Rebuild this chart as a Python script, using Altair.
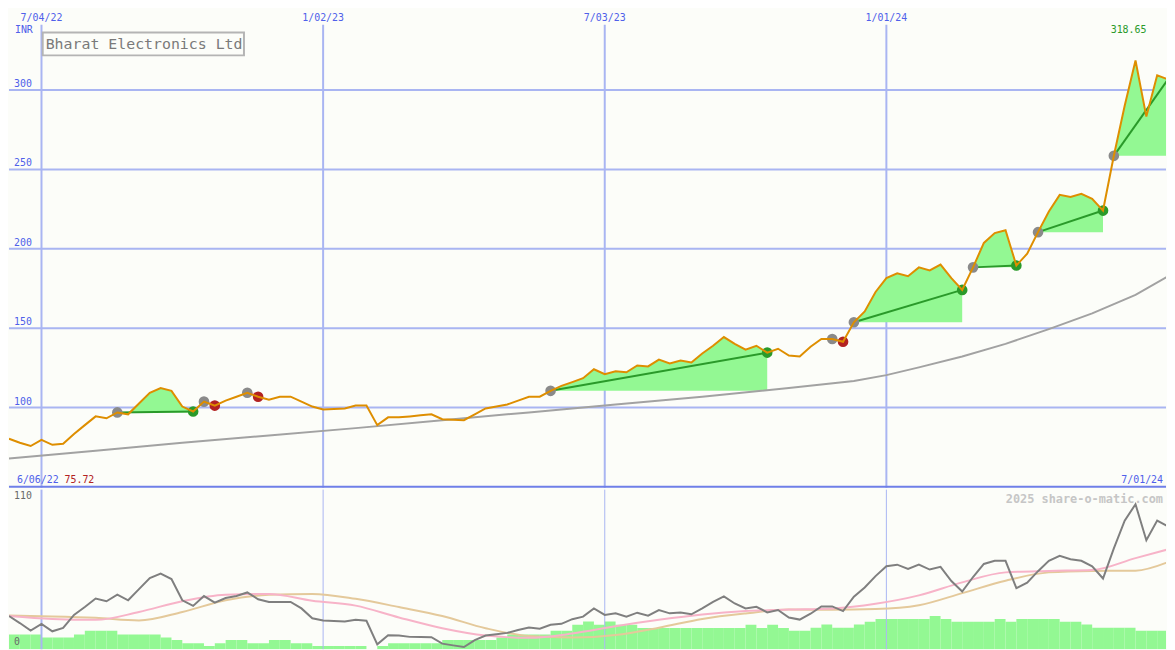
import altair as alt
import pandas as pd

# ---------------- data ----------------
START = "2022-06-13"
N_WEEKS = 108
week_dates = pd.date_range(START, periods=N_WEEKS + 1, freq="7D").strftime("%Y-%m-%d").tolist()
dates = week_dates[:N_WEEKS]

price = [80.3, 77.8, 75.72, 79.6, 76.5, 77.2, 83.3, 88.9, 94.4, 93.2,
         96.9, 95.7, 102.5, 109.3, 112.3, 110.5, 100.6, 97.5, 103.7, 101.2,
         104.3, 106.8, 109.3, 106.8, 104.9, 106.8, 106.8, 103.7, 100.6, 98.8,
         99.1, 99.4, 101.2, 101.2, 88.9, 93.8, 93.8, 94.4, 95.1, 95.7,
         92.6, 92.3, 92.0, 95.7, 99.4, 100.6, 101.9, 104.3, 106.8, 106.8,
         110.5, 113.6, 116.0, 118.5, 124.1, 121.0, 122.8, 122.2, 126.5, 125.9,
         130.2, 127.8, 129.6, 128.4, 134.0, 138.9, 144.4, 140.1, 136.4, 138.9,
         134.6, 137.0, 132.7, 132.1, 138.3, 143.2, 143.2, 141.4, 153.7, 160.5,
         172.8, 181.5, 184.6, 182.7, 188.3, 186.4, 190.1, 181.5, 174.1, 188.3,
         203.7, 209.9, 211.7, 189.5, 196.9, 210.5, 223.5, 234.0, 232.7, 234.6,
         231.5, 224.1, 258.6, 290.1, 318.65, 283.3, 309.3, 306.8]

ma_weeks = [0, 8, 16, 24, 32, 40, 48, 56, 64, 72, 78, 81, 84, 88, 92, 96, 100, 104, 107]
ma_vals = [67.9, 72.8, 77.8, 82.4, 87.0, 92.0, 96.9, 101.9, 106.8, 112.3, 116.7,
           120.4, 125.3, 132.1, 140.1, 149.4, 159.3, 171.0, 182.7]

osc = [25.0, 19.7, 14.0, 19.1, 13.5, 16.0, 25.8, 31.7, 38.1, 36.1,
       41.0, 36.8, 45.2, 53.5, 56.9, 52.8, 36.8, 32.6, 40.0, 35.1,
       38.5, 40.0, 42.7, 37.6, 35.6, 35.6, 35.6, 30.7, 23.3, 21.6,
       21.2, 20.8, 22.1, 21.4, 3.7, 10.5, 10.3, 9.3, 9.2, 9.1,
       4.2, 2.9, 1.7, 6.9, 10.3, 11.3, 12.3, 14.5, 16.4, 15.5,
       18.4, 19.1, 22.6, 24.5, 30.7, 25.8, 27.0, 24.5, 27.5, 25.3,
       29.5, 27.0, 27.7, 26.3, 30.7, 35.6, 39.8, 34.4, 30.7, 31.9,
       27.7, 29.5, 23.8, 22.3, 26.7, 32.2, 32.2, 28.7, 39.5, 46.4,
       55.0, 62.4, 63.6, 60.4, 63.6, 59.9, 61.9, 51.3, 43.4, 54.3,
       64.1, 66.5, 66.5, 45.9, 50.1, 58.7, 66.5, 70.2, 67.7, 66.5,
       62.4, 53.2, 75.8, 96.7, 109.0, 82.0, 96.7, 92.3]

vol = [11.0, 11.0, 11.0, 8.8, 8.8, 8.8, 11.0, 14.0, 14.0, 14.0,
       11.0, 11.0, 11.0, 11.0, 8.8, 6.9, 4.6, 4.6, 2.5, 4.6,
       6.9, 6.9, 4.6, 4.6, 6.9, 6.9, 4.6, 4.6, 2.5, 2.5,
       2.5, 2.5, 2.5, 0.0, 2.5, 4.6, 4.6, 4.6, 4.6, 4.6,
       6.9, 6.9, 6.9, 6.9, 6.9, 8.8, 11.0, 11.0, 11.0, 11.0,
       14.0, 14.0, 18.4, 20.9, 18.4, 20.9, 18.4, 18.4, 16.0, 16.0,
       16.0, 16.0, 16.0, 16.0, 16.0, 16.0, 16.0, 16.0, 18.4, 16.0,
       18.4, 16.0, 14.0, 14.0, 16.2, 18.6, 16.2, 16.2, 18.6, 20.6,
       22.8, 22.8, 22.8, 22.8, 22.8, 25.0, 22.8, 20.6, 20.6, 20.6,
       20.6, 22.8, 20.6, 22.8, 22.8, 22.8, 22.8, 20.6, 20.6, 18.6,
       16.2, 16.2, 16.2, 16.2, 14.0, 14.0, 14.0, 14.0]

sm_weeks = [0, 4, 8, 12, 16, 20, 24, 28, 32, 36, 40, 44, 48, 52, 56, 60, 64, 68,
            72, 76, 80, 84, 88, 92, 96, 100, 104, 107]
pink_vals = [25.0, 22.8, 22.1, 28.0, 36.1, 40.9, 41.6, 36.5, 32.8, 23.9, 15.8, 10.3,
             8.6, 11.8, 17.3, 22.1, 26.1, 28.7, 29.8, 30.7, 34.2, 40.5, 50.3, 57.8,
             58.9, 59.6, 68.5, 75.1]
tan_vals = [25.3, 24.7, 23.6, 21.6, 28.0, 36.8, 40.9, 41.6, 37.9, 31.7, 25.0, 15.8,
            9.9, 8.8, 10.7, 16.2, 22.8, 26.9, 29.8, 29.7, 30.2, 33.1, 42.2, 51.5,
            57.8, 58.9, 59.1, 65.5]

entry_weeks = [10, 18, 22, 50, 76, 78, 89, 95, 102]
exit_weeks = [17, 19, 23, 70, 77, 88, 93, 101, 107]
trade_open = [False, False, False, False, False, False, False, False, True]

grid_dates = ["2022-07-04", "2023-01-02", "2023-07-03", "2024-01-01"]
grid_labels = ["7/04/22", "1/02/23", "7/03/23", "1/01/24"]
price_ticks = [100, 150, 200, 250, 300]
price_tick_labels = ["100", "150", "200", "250", "300"]

TITLE = "Bharat Electronics Ltd"
FIRST_LABEL = "6/06/22"
LAST_LABEL = "7/01/24"
WATERMARK = "2025 share-o-matic.com"

# ---------------- style ----------------
W = 1167
H_TOP = 481
H_BOT = 161
FONT = "DejaVu Sans Mono"
BG = "#fcfdf9"
GRID = "#a9b5f2"
SEP = "#6f7fe8"
BLUE = "#4f60ea"
ORANGE = "#de8e00"
MA_GRAY = "#a2a2a2"
GREEN_FILL = "#93f893"
PINK_FILL = "#f6b8c6"
DARK_GREEN = "#2a9a2a"
RED = "#b22222"
DOT_GRAY = "#8a8a8a"

x_start = int(pd.Timestamp("2022-06-13", tz="UTC").timestamp() * 1000)
x_end = int(pd.Timestamp("2024-06-29 17:00", tz="UTC").timestamp() * 1000)
x_scale = alt.Scale(type="utc", domain=[x_start, x_end])
yt = alt.Scale(domain=[49.5, 350])
yb = alt.Scale(domain=[0, 120])


def xenc(field="date"):
    return alt.X(f"{field}:T", scale=x_scale, axis=None)


# ---------------- tables ----------------
price_df = pd.DataFrame({"date": dates, "price": price})
ma_df = pd.DataFrame({"date": [dates[k] for k in ma_weeks], "ma": ma_vals})
grid_df = pd.DataFrame({"date": grid_dates, "label": grid_labels,
                        "w": [2, 1, 1, 1]})
ytick_df = pd.DataFrame({"v": price_ticks, "label": price_tick_labels})

area_rows, loss_rows, tline_rows, dot_rows = [], [], [], []
for t, (e, x, is_open) in enumerate(zip(entry_weeks, exit_weeks, trade_open)):
    base = price[e]
    profit = price[x] >= base
    dot_rows.append({"date": dates[e], "price": base, "kind": "entry"})
    if not is_open:
        dot_rows.append({"date": dates[x], "price": price[x],
                         "kind": "win" if profit else "loss"})
    if profit or is_open:
        for k in range(e, x + 1):
            area_rows.append({"trade": t, "date": dates[k],
                              "top": max(price[k], base), "base": base})
        tline_rows.append({"trade": t, "date": dates[e], "price": base})
        tline_rows.append({"trade": t, "date": dates[x], "price": price[x]})
    else:
        for k in range(e, x + 1):
            loss_rows.append({"trade": t, "date": dates[k],
                              "top": base, "base": min(price[k], base)})

area_df = pd.DataFrame(area_rows)
loss_df = pd.DataFrame(loss_rows)
tline_df = pd.DataFrame(tline_rows)
dot_df = pd.DataFrame(dot_rows)

imax = price.index(max(price))
max_df = pd.DataFrame({"date": [dates[imax]], "label": [f"{max(price):.2f}"]})
one = pd.DataFrame({"a": [0]})

# ---------------- top panel ----------------
hgrid = alt.Chart(ytick_df).mark_rule(color=GRID, strokeWidth=2).encode(
    y=alt.Y("v:Q", scale=yt, axis=None))
vgrid = alt.Chart(grid_df).mark_rule(color=GRID, strokeWidth=2).encode(
    x=xenc(), y=alt.value(14), y2=alt.value(H_TOP))
date_txt = alt.Chart(grid_df).mark_text(
    font=FONT, fontSize=10, color=BLUE, baseline="middle").encode(
    x=xenc(), y=alt.value(7), text="label:N")
ytxt = alt.Chart(ytick_df).mark_text(
    font=FONT, fontSize=10, color=BLUE, align="left", baseline="bottom", dy=-1).encode(
    x=alt.value(5), y=alt.Y("v:Q", scale=yt, axis=None), text="label:N")
inr = alt.Chart(pd.DataFrame({"t": ["INR"]})).mark_text(
    font=FONT, fontSize=10, color=BLUE, align="left", baseline="middle").encode(
    x=alt.value(6), y=alt.value(19), text="t:N")

areas = alt.Chart(area_df).mark_area(color=GREEN_FILL, opacity=1, clip=True).encode(
    x=xenc(), y=alt.Y("top:Q", scale=yt, axis=None), y2="base:Q", detail="trade:N")
loss_areas = alt.Chart(loss_df).mark_area(color=PINK_FILL, opacity=1, clip=True).encode(
    x=xenc(), y=alt.Y("top:Q", scale=yt, axis=None), y2="base:Q", detail="trade:N")
ma_line = alt.Chart(ma_df).mark_line(color=MA_GRAY, strokeWidth=2, clip=True).encode(
    x=xenc(), y=alt.Y("ma:Q", scale=yt, axis=None))
tlines = alt.Chart(tline_df).mark_line(color=DARK_GREEN, strokeWidth=2, clip=True).encode(
    x=xenc(), y=alt.Y("price:Q", scale=yt, axis=None), detail="trade:N")
dots = alt.Chart(dot_df).mark_circle(size=115, opacity=1).encode(
    x=xenc(), y=alt.Y("price:Q", scale=yt, axis=None),
    color=alt.Color("kind:N", legend=None,
                    scale=alt.Scale(domain=["entry", "win", "loss"],
                                    range=[DOT_GRAY, DARK_GREEN, RED])))
price_line = alt.Chart(price_df).mark_line(color=ORANGE, strokeWidth=2, clip=True).encode(
    x=xenc(), y=alt.Y("price:Q", scale=yt, axis=None))

title_box = alt.Chart(one).mark_rect(fill=BG, stroke="#b4b4b4", strokeWidth=2).encode(
    x=alt.value(34), x2=alt.value(237), y=alt.value(22), y2=alt.value(45))
title_txt = alt.Chart(pd.DataFrame({"t": [TITLE]})).mark_text(
    font=FONT, fontSize=15, color="#7a7a7a", align="left", baseline="middle").encode(
    x=alt.value(37), y=alt.value(34), text="t:N")
max_txt = alt.Chart(max_df).mark_text(
    font=FONT, fontSize=10, color=DARK_GREEN, baseline="middle", dx=-7).encode(
    x=xenc(), y=alt.value(19), text="label:N")
first_txt = alt.Chart(pd.DataFrame({"t": [FIRST_LABEL]})).mark_text(
    font=FONT, fontSize=10, color=BLUE, align="left", baseline="middle").encode(
    x=alt.value(8), y=alt.value(H_TOP - 8), text="t:N")
min_txt = alt.Chart(pd.DataFrame({"t": [f"{min(price):.2f}"]})).mark_text(
    font=FONT, fontSize=10, color=RED, align="left", baseline="middle").encode(
    x=alt.value(56), y=alt.value(H_TOP - 8), text="t:N")
last_txt = alt.Chart(pd.DataFrame({"t": [LAST_LABEL]})).mark_text(
    font=FONT, fontSize=10, color=BLUE, align="right", baseline="middle").encode(
    x=alt.value(W - 3), y=alt.value(H_TOP - 8), text="t:N")
sep = alt.Chart(one).mark_rule(color=SEP, strokeWidth=2).encode(y=alt.value(H_TOP - 1))

top = alt.layer(
    hgrid, vgrid, date_txt, ytxt, inr, areas, loss_areas, ma_line, tlines, dots,
    price_line, title_box, title_txt, max_txt, first_txt, min_txt, last_txt, sep
).properties(width=W, height=H_TOP)

# ---------------- bottom panel ----------------
vol_df = pd.DataFrame({"date": dates, "date2": week_dates[1:], "vol": vol,
                       "zero": [0.0] * N_WEEKS})
osc_df = pd.DataFrame({"date": dates, "osc": osc})
sm_df = pd.DataFrame({"date": [dates[k] for k in sm_weeks],
                      "pink": pink_vals, "tan": tan_vals})

bars = alt.Chart(vol_df).mark_rect(color=GREEN_FILL, clip=True).encode(
    x=xenc(), x2="date2:T", y=alt.Y("vol:Q", scale=yb, axis=None), y2="zero:Q")
bgrid = alt.Chart(grid_df).mark_rule(color=GRID).encode(
    x=xenc(), strokeWidth=alt.StrokeWidth("w:Q", scale=None))
tan_line = alt.Chart(sm_df).mark_line(color="#e4c99b", strokeWidth=2,
                                      interpolate="monotone", clip=True).encode(
    x=xenc(), y=alt.Y("tan:Q", scale=yb, axis=None))
pink_line = alt.Chart(sm_df).mark_line(color="#f7b3c8", strokeWidth=2,
                                       interpolate="monotone", clip=True).encode(
    x=xenc(), y=alt.Y("pink:Q", scale=yb, axis=None))
osc_line = alt.Chart(osc_df).mark_line(color="#7f7f7f", strokeWidth=2, clip=True).encode(
    x=xenc(), y=alt.Y("osc:Q", scale=yb, axis=None))
blabels = alt.Chart(pd.DataFrame({"v": [110, 0], "label": ["110", "0"]})).mark_text(
    font=FONT, fontSize=10, color="#6a6a6a", align="left", baseline="bottom", dy=-2).encode(
    x=alt.value(5), y=alt.Y("v:Q", scale=yb, axis=None), text="label:N")
wm = alt.Chart(pd.DataFrame({"t": [WATERMARK]})).mark_text(
    font=FONT, fontSize=12, fontWeight="bold", color="#c6c6c6",
    align="right", baseline="middle").encode(
    x=alt.value(W - 3), y=alt.value(9), text="t:N")

bottom = alt.layer(bars, bgrid, tan_line, pink_line, osc_line, blabels, wm).properties(
    width=W, height=H_BOT)

chart = alt.vconcat(top, bottom, spacing=0, padding=0, background=BG).configure_view(
    strokeWidth=0)

chart.save("out.html", embed_options={"renderer": "svg", "actions": False})
